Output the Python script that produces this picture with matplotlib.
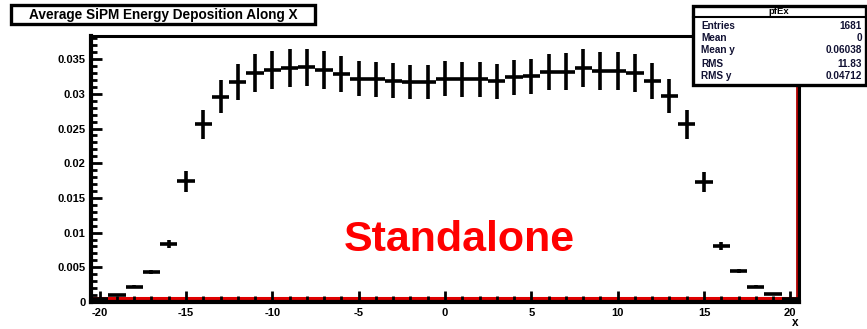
import numpy as np
import matplotlib
matplotlib.use("Agg")
import matplotlib.pyplot as plt
from matplotlib.patches import Rectangle
from matplotlib.lines import Line2D

plt.rcParams['font.family'] = ['Liberation Sans', 'DejaVu Sans']
plt.rcParams['axes.unicode_minus'] = False

# profile bins (centres) and mean values
x_bins = np.arange(-20, 21)
y_mean = [0.0004, 0.0010, 0.0022, 0.0043, 0.0084, 0.0174, 0.0256, 0.0296, 0.0317, 0.0330,
          0.0334, 0.0337, 0.0338, 0.0334, 0.0328, 0.0322, 0.0321, 0.0319, 0.0317, 0.0317,
          0.0322, 0.0321, 0.0321, 0.0318, 0.0324, 0.0325, 0.0331, 0.0332, 0.0337, 0.0333,
          0.0333, 0.0330, 0.0318, 0.0297, 0.0256, 0.0173, 0.0081, 0.0045, 0.0022, 0.0011,
          0.0005]
y_err = [0.0001, 0.0001, 0.0002, 0.0003, 0.0006, 0.0015, 0.0021, 0.0024, 0.0026, 0.0027,
         0.0027, 0.0027, 0.0027, 0.0027, 0.0026, 0.0025, 0.0025, 0.0025, 0.0025, 0.0025,
         0.0025, 0.0025, 0.0025, 0.0025, 0.0025, 0.0025, 0.0026, 0.0027, 0.0027, 0.0027,
         0.0027, 0.0027, 0.0026, 0.0024, 0.0021, 0.0015, 0.0006, 0.0003, 0.0002, 0.0001,
         0.0001]

stat_names = ['Entries', 'Mean', 'Mean y', 'RMS', 'RMS y']
stat_values = ['1681', '0', '0.06038', '11.83', '0.04712']

W, H = 867, 329
fig = plt.figure(figsize=(W / 100, H / 100), dpi=100)


def fx(px):
    return px / W


def fy(py):
    return 1 - py / H


ax = fig.add_axes([fx(91), fy(302), fx(708), 266 / H])
ax.set_xlim(-20.5, 20.5)
ax.set_ylim(0, 0.03833)

ax.axhline(0.00055, color='#e00000', lw=2.2, zorder=1)
ax.axvline(20.38, color='#b00000', lw=2.0, zorder=1)

ax.errorbar(x_bins, y_mean, xerr=0.5, yerr=y_err, fmt='none', ecolor='black',
            elinewidth=2.6, capsize=0, zorder=3)

ax.set_xticks(np.arange(-20, 21, 5))
ax.set_xticks(np.arange(-20, 21, 1), minor=True)
ax.set_yticks(np.arange(0, 0.0351, 0.005))
ax.set_yticks(np.arange(0, 0.0381, 0.001), minor=True)
ax.set_yticklabels(['0', '0.005', '0.01', '0.015', '0.02', '0.025', '0.03', '0.035'])
ax.tick_params(which='both', direction='in', top=False, right=False,
               labelsize=8, width=2)
ax.tick_params(which='major', length=8, pad=4)
ax.tick_params(which='minor', length=4)
for lab in ax.get_xticklabels() + ax.get_yticklabels():
    lab.set_fontweight('bold')

for side in ['left', 'bottom']:
    ax.spines[side].set_linewidth(3)
ax.spines['top'].set_linewidth(2.2)
ax.spines['right'].set_linewidth(2.2)

ax.text(0.52, 0.192, 'Standalone', transform=ax.transAxes, color='red',
        fontsize=31, fontweight='bold', ha='center', va='baseline')

fig.text(fx(795), fy(323), 'x', fontsize=8.5, fontweight='bold', ha='center', va='center')

# title box
fig.patches.append(Rectangle((fx(11), fy(24)), fx(304), 19 / H, transform=fig.transFigure,
                             facecolor='white', edgecolor='black', lw=2.4, zorder=5))
fig.text(fx(163), fy(14.5), 'Average SiPM Energy Deposition Along X', fontsize=9.8,
         fontweight='bold', ha='center', va='center', zorder=6)

# stats box
fig.patches.append(Rectangle((fx(693), fy(85)), fx(173), 79 / H, transform=fig.transFigure,
                             facecolor='white', edgecolor='black', lw=2.4, zorder=5))
fig.lines.append(Line2D([fx(693), fx(867)], [fy(17), fy(17)], transform=fig.transFigure,
                        color='black', lw=1.5, zorder=6))
fig.text(fx(779), fy(11.5), 'pfEx', fontsize=6.8, fontweight='bold', ha='center',
         va='center', zorder=6)
rows_y = [26, 38, 50, 64, 76]
for name, val, ry in zip(stat_names, stat_values, rows_y):
    fig.text(fx(701), fy(ry), name, fontsize=7.2, fontweight='bold', ha='left',
             va='center', zorder=6, color='#111133')
    fig.text(fx(862), fy(ry), val, fontsize=7.2, fontweight='bold', ha='right',
             va='center', zorder=6, color='#111133')

fig.savefig('out.png', dpi=100)
